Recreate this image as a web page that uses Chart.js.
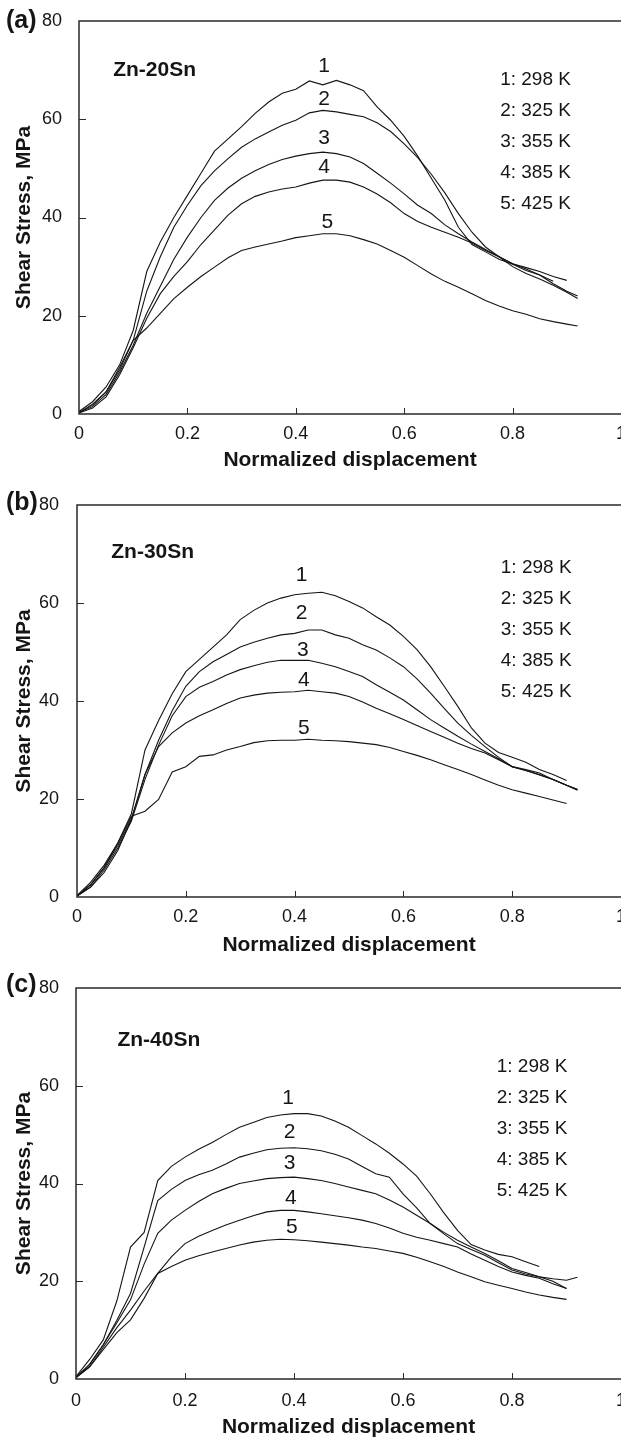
<!DOCTYPE html>
<html>
<head>
<meta charset="utf-8">
<script src="https://cdn.jsdelivr.net/npm/chart.js@4.4.0/dist/chart.umd.min.js"></script>
<style>
  body { margin: 0; background: #fff; width: 621px; height: 1441px; position: relative; overflow: hidden; }
  canvas { position: absolute; left: 0; }
</style>
</head>
<body>
<canvas id="panel-a" width="621" height="480" style="top:0"></canvas>
<canvas id="panel-b" width="621" height="480" style="top:480px"></canvas>
<canvas id="panel-c" width="621" height="481" style="top:960px"></canvas>
<script>
// normalized displacement grid shared by all curves
const disp = [0, 0.025, 0.05, 0.075, 0.1, 0.125, 0.15, 0.175, 0.2, 0.225, 0.25, 0.275, 0.3, 0.325, 0.35,
  0.375, 0.4, 0.425, 0.45, 0.475, 0.5, 0.525, 0.55, 0.575, 0.6, 0.625, 0.65, 0.675, 0.7, 0.725, 0.75,
  0.775, 0.8, 0.825, 0.85, 0.875, 0.9, 0.92];

const dispTicks = ['0', '0.2', '0.4', '0.6', '0.8', '1'];
const stressTicks = ['0', '20', '40', '60', '80'];
const tempLabels = ['1: 298 K', '2: 325 K', '3: 355 K', '4: 385 K', '5: 425 K'];
const curveNames = ['1', '2', '3', '4', '5'];
const alloys = ['Zn-20Sn', 'Zn-30Sn', 'Zn-40Sn'];
const panelLetters = ['(a)', '(b)', '(c)'];

// (a) Zn-20Sn shear stress, MPa
const a1 = [0.5, 2.5, 5.5, 10, 17, 29, 35, 40, 44.5, 49, 53.5, 56, 58.5, 61.2, 63.5, 65.3, 66.1, 67.8, 67.0, 67.9, 67, 65.8, 62.5, 59.8, 56.5, 52.5, 48, 43.5, 38, 34.5, 33, 31.5, 30.5, 29.2, 28.3, 26.5, 25, 24];
const a2 = [0.3, 2, 4.5, 9, 15, 25, 32, 38, 42.5, 46.5, 49.5, 52, 54.3, 56, 57.4, 58.8, 59.8, 61.3, 61.8, 61.5, 61, 60.5, 59.3, 57.5, 55, 52.2, 48.8, 45, 40.8, 37, 34, 32, 30, 28.6, 27.5, 26.2, 24.8, 23.5];
const a3 = [0.3, 1.5, 4, 8.5, 14, 20.5, 26, 31.5, 36, 40, 43.5, 46, 48, 49.5, 50.8, 51.8, 52.5, 53, 53.3, 53, 52.3, 51, 49, 47, 44.8, 42.5, 40.8, 38.5, 36.7, 35, 33.5, 32, 30.6, 29.8, 29, 28, 27.2];
const a4 = [0.2, 1.2, 3.5, 8, 13.5, 19.5, 24.5, 28, 31, 34.5, 37.5, 40.5, 42.8, 44.3, 45.2, 45.8, 46.2, 47, 47.6, 47.6, 47.2, 46.2, 44.8, 43, 40.8, 39.2, 38, 37, 36, 34.8, 33.3, 32, 30.6, 29.5, 28.3, 27];
const a5 = [0.3, 1.8, 4.5, 9.5, 15, 17.5, 20.5, 23.5, 25.8, 28, 29.9, 31.8, 33.3, 34, 34.6, 35.2, 35.9, 36.3, 36.7, 36.7, 36.3, 35.5, 34.6, 33.3, 31.9, 30.2, 28.5, 27, 25.8, 24.5, 23.1, 22, 21, 20.3, 19.4, 18.8, 18.3, 17.9];

// (b) Zn-30Sn
const b1 = [0.3, 3, 6.5, 11, 17, 30, 36, 41.5, 46, 48.5, 51, 53.5, 56.6, 58.5, 60, 61, 61.7, 62, 62.2, 61.5, 60.3, 59, 57.2, 55.5, 53.2, 50.5, 47, 43, 38.9, 34.5, 31.4, 29.5, 28.5, 27.5, 26, 25, 23.8];
const b2 = [0.2, 2.5, 6, 10.5, 16, 25, 32, 38, 43, 46, 48, 49.5, 51, 52, 52.8, 53.5, 53.8, 54.5, 54.5, 53.5, 52.8, 51.5, 50.4, 48.8, 47, 44.5, 41.6, 38.5, 35.5, 33, 30.7, 28.5, 26.6, 26, 25.3, 24, 22.8, 21.8];
const b3 = [0.2, 2, 5.5, 10, 15.5, 24, 31, 37, 40.9, 42.8, 44, 45.3, 46.4, 47.2, 47.9, 48.3, 48.3, 48.3, 47.7, 47, 46, 45, 43.3, 41.8, 40.2, 38.2, 36.2, 34.5, 32.8, 31.2, 29.7, 28.2, 26.6, 25.8, 25, 24, 22.8, 22];
const b4 = [0.2, 2, 5, 9.5, 15.8, 25, 30.7, 33.5, 35.5, 37, 38.2, 39.5, 40.6, 41.2, 41.6, 41.8, 41.9, 42.2, 41.9, 41.6, 40.9, 39.8, 38.5, 37.4, 36.2, 35, 33.8, 32.6, 31.4, 30.3, 29.4, 28, 26.6, 25.8, 24.9, 24, 22.8, 21.9];
const b5 = [0.2, 2.5, 6, 11, 16.5, 17.5, 19.9, 25.5, 26.6, 28.7, 29, 30, 30.7, 31.5, 31.9, 32, 32, 32.2, 32, 31.9, 31.7, 31.4, 31.1, 30.5, 29.7, 28.9, 28, 27, 26, 25, 23.9, 22.8, 21.9, 21.2, 20.5, 19.8, 19.1];

// (c) Zn-40Sn
const c1 = [0.5, 4, 8, 16, 27, 30, 40.6, 43.5, 45.4, 47, 48.4, 50, 51.5, 52.5, 53.5, 54, 54.3, 54.3, 53.8, 52.8, 51.5, 49.8, 48.1, 46.2, 44, 41.5, 37.9, 34, 30.4, 27.5, 26.4, 25.5, 25, 24, 23];
const c2 = [0.3, 3, 7, 12, 17.5, 27, 36.5, 38.8, 40.6, 41.8, 42.7, 44, 45.4, 46.2, 46.9, 47.2, 47.3, 47.1, 46.7, 46, 45, 43.5, 42, 41.3, 37.9, 35, 31.8, 30, 28.4, 27, 25.7, 24.2, 22.6, 21.8, 20.9, 20, 18.5];
const c3 = [0.3, 3, 7, 11.5, 16.2, 23.5, 29.8, 32.5, 34.5, 36.3, 37.9, 39, 40, 40.5, 41, 41.2, 41.3, 41, 40.6, 40, 39.3, 38.6, 37.9, 36.6, 35.2, 33.5, 31.8, 29.7, 27.7, 26.5, 25.3, 23.8, 22.3, 21.5, 20.9, 20.5, 20.2, 20.8];
const c4 = [0.3, 2.5, 6.5, 10.5, 14.1, 18, 21.6, 25, 27.7, 29.2, 30.4, 31.5, 32.5, 33.4, 34.2, 34.5, 34.5, 34.2, 33.8, 33.4, 33, 32.5, 31.8, 30.9, 29.8, 29, 28.4, 27.7, 27, 25.6, 24.3, 23, 21.9, 21.2, 20.6, 19.5, 18.5];
const c5 = [0.3, 2.5, 6, 9.5, 12.1, 16.5, 21.6, 23, 24.3, 25.2, 26, 26.7, 27.4, 28, 28.4, 28.6, 28.5, 28.3, 28, 27.7, 27.4, 27, 26.7, 26.2, 25.7, 24.9, 24, 23, 21.9, 20.9, 19.9, 19.2, 18.5, 17.8, 17.2, 16.7, 16.3];

// where the curve numbers sit, in data units [x, y]
const numPosA = [[0.452, 70.7], [0.452, 64.1], [0.452, 56.2], [0.452, 50.3], [0.458, 39.1]];
const numPosB = [[0.413, 65.7], [0.413, 58], [0.415, 50.4], [0.417, 44.3], [0.417, 34.5]];
const numPosC = [[0.389, 57.5], [0.392, 50.5], [0.392, 44.2], [0.394, 37], [0.396, 31.1]];

const FONT = "'Liberation Sans', Arial, Helvetica, sans-serif";
const INK = '#151515';

const panels = [
  { id: 'panel-a', curves: [a1, a2, a3, a4, a5], nums: numPosA, top: 21, bottom: 414, left: 79,
    tickPad: 9, xTickPad: 1, xTitlePad: 7, alloyAt: [0.063, 70], legendAt: [0.777, 68], letterY: 21 },
  { id: 'panel-b', curves: [b1, b2, b3, b4, b5], nums: numPosB, top: 25, bottom: 417, left: 77,
    tickPad: 10, xTickPad: 1, xTitlePad: 2, alloyAt: [0.063, 70.4], legendAt: [0.779, 67.1], letterY: 23 },
  { id: 'panel-c', curves: [c1, c2, c3, c4, c5], nums: numPosC, top: 28, bottom: 419, left: 76,
    tickPad: 9, xTickPad: 3, xTitlePad: 1, alloyAt: [0.076, 69.3], legendAt: [0.772, 63.8], letterY: 25 }
];

function makePanel(cfg, idx) {
  const canvas = document.getElementById(cfg.id);
  const H = canvas.height;

  const datasets = cfg.curves.map(ys => ({
    data: ys.map((y, i) => ({ x: disp[i], y: y })),
    showLine: true,
    borderColor: INK,
    borderWidth: 1.1,
    pointRadius: 0,
    fill: false,
    tension: 0
  }));

  // frame (left, top, bottom), inward ticks and the text annotations
  const decor = {
    id: 'decor',
    afterDraw(chart) {
      const ctx = chart.ctx;
      const a = chart.chartArea;
      const xs = chart.scales.x, ys = chart.scales.y;
      ctx.save();
      ctx.strokeStyle = '#2a2a2a';
      ctx.lineWidth = 1.5;
      ctx.beginPath();
      ctx.moveTo(canvas.width, a.top);
      ctx.lineTo(a.left, a.top);
      ctx.lineTo(a.left, a.bottom);
      ctx.lineTo(canvas.width, a.bottom);
      ctx.stroke();
      ctx.lineWidth = 1;
      ctx.beginPath();
      [0.2, 0.4, 0.6, 0.8].forEach(v => {
        const px = Math.round(xs.getPixelForValue(v)) + 0.5;
        ctx.moveTo(px, a.bottom);
        ctx.lineTo(px, a.bottom - 6);
      });
      [20, 40, 60].forEach(v => {
        const py = Math.round(ys.getPixelForValue(v)) + 0.5;
        ctx.moveTo(a.left, py);
        ctx.lineTo(a.left + 7, py);
      });
      ctx.stroke();

      ctx.fillStyle = INK;
      ctx.textBaseline = 'middle';

      ctx.font = 'bold 25px ' + FONT;
      ctx.textAlign = 'left';
      ctx.fillText(panelLetters[idx], 6, cfg.letterY);

      ctx.font = 'bold 21px ' + FONT;
      ctx.fillText(alloys[idx], xs.getPixelForValue(cfg.alloyAt[0]), ys.getPixelForValue(cfg.alloyAt[1]));

      ctx.font = '19px ' + FONT;
      const lx = xs.getPixelForValue(cfg.legendAt[0]);
      const ly = ys.getPixelForValue(cfg.legendAt[1]);
      tempLabels.forEach((t, i) => ctx.fillText(t, lx, ly + i * 31));

      ctx.font = '21px ' + FONT;
      ctx.textAlign = 'center';
      cfg.nums.forEach((p, i) => {
        ctx.fillText(curveNames[i], xs.getPixelForValue(p[0]), ys.getPixelForValue(p[1]));
      });
      ctx.restore();
    }
  };

  new Chart(canvas, {
    type: 'scatter',
    data: { datasets: datasets },
    options: {
      responsive: false,
      animation: false,
      events: [],
      layout: { padding: { top: cfg.top, right: 0, left: 0, bottom: 0 } },
      plugins: { legend: { display: false }, tooltip: { enabled: false } },
      scales: {
        x: {
          type: 'linear',
          min: 0, max: 1,
          ticks: {
            stepSize: 0.2,
            padding: cfg.xTickPad,
            color: INK,
            font: { family: FONT, size: 18 },
            maxRotation: 0,
            callback: (v, i) => dispTicks[i]
          },
          grid: { display: false },
          border: { display: false },
          title: {
            display: true,
            text: 'Normalized displacement',
            color: INK,
            font: { family: FONT, size: 21, weight: 'bold' },
            padding: { top: 0, bottom: cfg.xTitlePad }
          },
          afterFit: s => { s.height = H - cfg.bottom; s.paddingLeft = 0; s.paddingRight = 0; }
        },
        y: {
          type: 'linear',
          min: 0, max: 80,
          ticks: {
            stepSize: 20,
            padding: cfg.tickPad,
            color: INK,
            font: { family: FONT, size: 18 },
            callback: (v, i) => stressTicks[i]
          },
          grid: { display: false },
          border: { display: false },
          title: {
            display: true,
            text: 'Shear Stress, MPa',
            color: INK,
            font: { family: FONT, size: 21, weight: 'bold' },
            padding: { top: 12, bottom: 0 }
          },
          afterFit: s => { s.width = cfg.left; s.paddingTop = 0; s.paddingBottom = 0; }
        }
      }
    },
    plugins: [decor]
  });
}

panels.forEach(makePanel);
</script>
</body>
</html>
